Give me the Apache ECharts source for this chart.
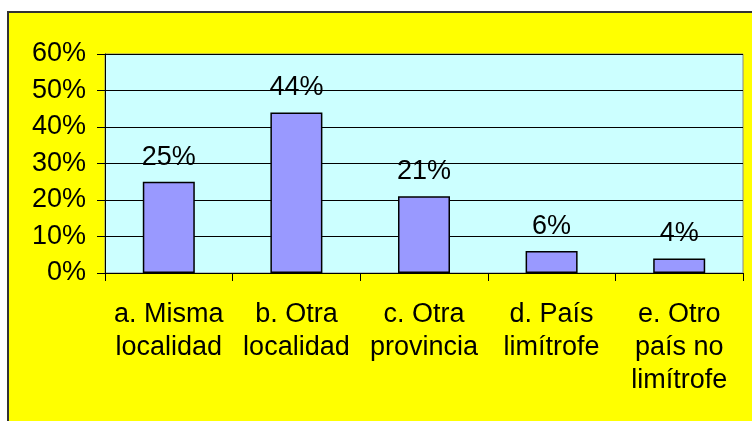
<!DOCTYPE html>
<html lang="es">
<head>
    <meta charset="UTF-8">
    <title>Procedencia</title>
    <style>
        html, body { margin: 0; padding: 0; background: #fff; }
    </style>
</head>
<body>
<div id="main" style="width: 752px;height:421px;"></div>
<script src="https://cdn.jsdelivr.net/npm/echarts@6/dist/echarts.min.js"></script>
<script>
    // categorias y porcentajes
    var categories = [
        'a. Misma\nlocalidad',
        'b. Otra\nlocalidad',
        'c. Otra\nprovincia',
        'd. País\nlimítrofe',
        'e. Otro\npaís no\nlimítrofe'
    ];
    var values = [25, 44, 21, 6, 4];
    var yTicks = [0, 10, 20, 30, 40, 50, 60];

    var font = '"Liberation Sans", Arial, sans-serif';
    var myChart = echarts.init(document.getElementById('main'));

    var option = {
        animation: false,
        backgroundColor: '#fff',
        // marco amarillo del grafico
        graphic: [{
            type: 'rect',
            z: -10,
            shape: { x: 8, y: 12, width: 800, height: 500 },
            style: { fill: '#FFFF00', stroke: '#333', lineWidth: 2 }
        }],
        grid: {
            left: 105,
            top: 54,
            right: 9,
            bottom: 148,
            show: true,
            backgroundColor: '#CCFFFF',
            borderColor: '#888',
            borderWidth: 1
        },
        xAxis: {
            type: 'category',
            data: categories,
            axisLine: { lineStyle: { color: '#000', width: 1 } },
            axisTick: { show: true, length: 8, alignWithLabel: false, lineStyle: { color: '#000' } },
            axisLabel: {
                interval: 0,
                margin: 25,
                color: '#000',
                fontSize: 27,
                lineHeight: 33,
                fontFamily: font
            }
        },
        yAxis: {
            type: 'value',
            min: yTicks[0],
            max: yTicks[yTicks.length - 1],
            interval: 10,
            axisLine: { show: true, lineStyle: { color: '#000', width: 1 } },
            axisTick: { show: true, length: 8, lineStyle: { color: '#000' } },
            splitLine: { show: true, lineStyle: { color: '#000', width: 1 } },
            axisLabel: {
                formatter: '{value}%',
                margin: 19,
                color: '#000',
                fontSize: 27,
                fontFamily: font
            }
        },
        series: [
            {
                type: 'bar',
                data: values,
                barWidth: 52,
                itemStyle: {
                    color: '#9999FF',
                    borderColor: '#000',
                    borderWidth: 1.5
                },
                label: {
                    show: true,
                    position: 'top',
                    distance: 11,
                    formatter: '{c}%',
                    color: '#000',
                    fontSize: 27,
                    fontFamily: font
                }
            }
        ]
    };
    myChart.setOption(option);
</script>
</body>
</html>
